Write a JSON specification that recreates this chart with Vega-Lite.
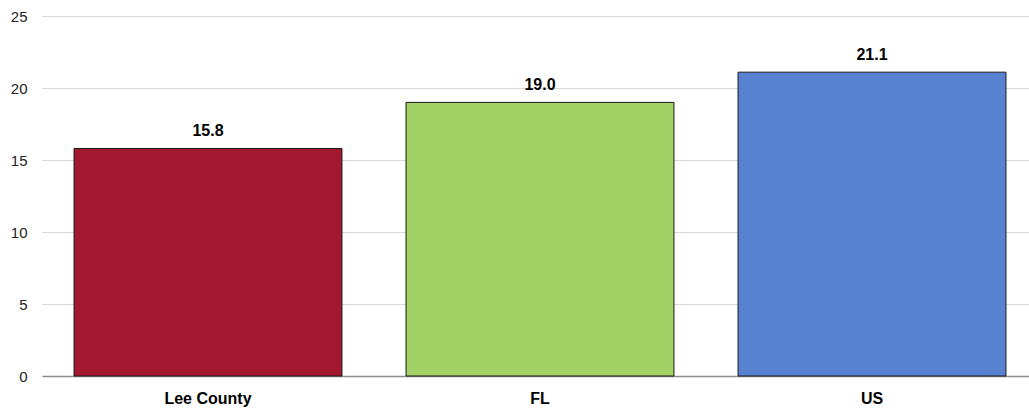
{
  "$schema": "https://vega.github.io/schema/vega-lite/v6.json",
  "autosize": "none",
  "width": 996,
  "height": 360,
  "padding": {"left": 42, "top": 16, "right": 0, "bottom": 35},
  "background": "white",
  "config": {"view": {"stroke": null}, "font": "Liberation Sans"},
  "data": {"values": [
    {"region": "Lee County", "value": 15.8, "label": "15.8"},
    {"region": "FL", "value": 19.0, "label": "19.0"},
    {"region": "US", "value": 21.1, "label": "21.1"}
  ]},
  "encoding": {
    "x": {"field": "region", "type": "nominal", "sort": null,
      "scale": {"paddingInner": 0.193, "paddingOuter": 0.0965},
      "axis": {"title": null, "labelAngle": 0, "ticks": false, "domainColor": "#8c8c8c", "domainWidth": 1.5,
        "labelFont": "Liberation Sans", "labelFontWeight": "bold", "labelFontSize": 16, "labelColor": "#000", "labelPadding": 14}},
    "y": {"field": "value", "type": "quantitative",
      "scale": {"domain": [0, 25]},
      "axis": {"title": null, "values": [0, 5, 10, 15, 20, 25], "ticks": false, "domain": false, "gridColor": "#d9d9d9",
        "labelFont": "Liberation Sans", "labelFontSize": 15, "labelColor": "#222", "labelPadding": 15}}
  },
  "layer": [
    {"mark": {"type": "bar", "stroke": "#1a1a1a", "strokeWidth": 1},
      "encoding": {"color": {"field": "region", "type": "nominal", "sort": null, "legend": null,
        "scale": {"domain": ["Lee County", "FL", "US"], "range": ["#A1182F", "#A2D266", "#5781D1"]}}}},
    {"mark": {"type": "text", "baseline": "bottom", "dy": -9, "font": "Liberation Sans", "fontWeight": "bold", "fontSize": 16, "color": "#000"},
      "encoding": {"text": {"field": "label"}}}
  ]
}
